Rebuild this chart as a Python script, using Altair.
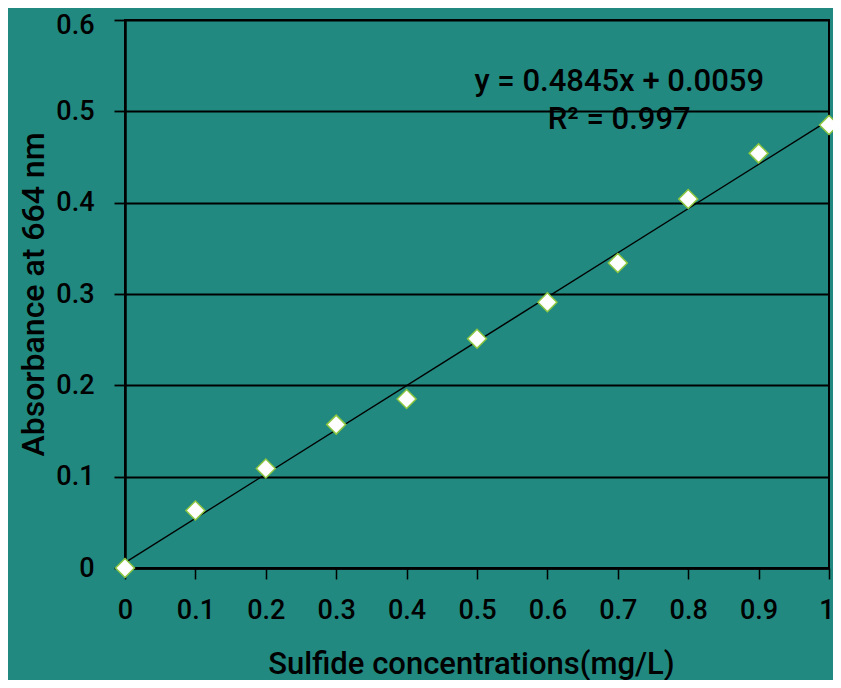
import altair as alt
import pandas as pd

# data
conc = [0, 0.1, 0.2, 0.3, 0.4, 0.5, 0.6, 0.7, 0.8, 0.9, 1.0]
absorb = [0.0, 0.063, 0.109, 0.157, 0.185, 0.251, 0.291, 0.334, 0.404, 0.454, 0.485]

trend_x = [0.0, 1.0]
trend_y = [0.0059, 0.4904]

ann_text = ["y = 0.4845x + 0.0059", "R² = 0.997"]
ann_x = [0.702, 0.702]
ann_y = [0.532, 0.4905]

x_ticks = [0, 0.1, 0.2, 0.3, 0.4, 0.5, 0.6, 0.7, 0.8, 0.9, 1]
y_ticks = [0, 0.1, 0.2, 0.3, 0.4, 0.5, 0.6]

pts = pd.DataFrame({"x": conc, "y": absorb})
trend = pd.DataFrame({"x": trend_x, "y": trend_y})
ann = pd.DataFrame({"x": ann_x, "y": ann_y, "t": ann_text})

FONT = "Roboto"
BG = "#21897F"
LBL = 27
TTL = 31

xscale = alt.Scale(domain=[0, 1], nice=False, zero=False)
yscale = alt.Scale(domain=[0, 0.6], nice=False)

xaxis = alt.Axis(
    title="Sulfide concentrations(mg/L)", values=x_ticks, grid=False,
    labelExpr="datum.value == 0 ? '0' : datum.value == 1 ? '1' : format(datum.value, '.1f')",
    labelAlign={"expr": "datum.value == 1 ? 'right' : 'center'"},
    labelOffset={"expr": "datum.value == 1 ? 5 : 0"},
    domainColor="black", domainWidth=2.5, tickColor="black", tickWidth=1.5, tickSize=11,
    labelPadding=18, labelFontSize=LBL, labelFont=FONT, labelColor="black", labelFontWeight=500,
    titleFontSize=TTL, titleFont=FONT, titleColor="black", titleFontWeight=500,
    titleY=96, titleX=346, titleAlign="center", titleBaseline="middle",
)
yaxis = alt.Axis(
    title="Absorbance at 664 nm", values=y_ticks, grid=True, gridColor="black", gridWidth=1.8,
    labelExpr="datum.value == 0 ? '0' : format(datum.value, '.1f')",
    labelOffset={"expr": "datum.value == 0.6 ? 5 : 0"},
    domainColor="black", domainWidth=2.5, tickColor="black", tickWidth=1.8, tickSize=11,
    labelPadding=20, labelFontSize=LBL, labelFont=FONT, labelColor="black", labelFontWeight=500,
    titleFontSize=32, titleFont=FONT, titleColor="black", titleFontWeight=500,
    titleX=-92, titleBaseline="middle",
)

base_x = alt.X("x:Q", scale=xscale, axis=xaxis)
base_y = alt.Y("y:Q", scale=yscale, axis=yaxis)

line = alt.Chart(trend).mark_line(color="black", strokeWidth=1.3).encode(x=base_x, y=base_y)
points = alt.Chart(pts).mark_point(
    shape="diamond", filled=True, fill="white", stroke="#8DC63F", strokeWidth=1.5,
    size=360, opacity=1,
).encode(x=alt.X("x:Q", scale=xscale), y=alt.Y("y:Q", scale=yscale))
text = alt.Chart(ann).mark_text(
    font=FONT, fontSize=TTL, fontWeight=500, color="black", align="center", baseline="middle"
).encode(x=alt.X("x:Q", scale=xscale), y=alt.Y("y:Q", scale=yscale), text="t:N")

chart = alt.layer(line, points, text).properties(
    width=704, height=548, background=BG,
    autosize=alt.AutoSizeParams(type="none"),
    padding={"left": 117, "top": 12, "right": 4, "bottom": 112},
).configure_view(stroke="black", strokeWidth=2).configure_axis(labelFlush=False, labelOverlap=False)

chart.save("out.html", embed_options={"renderer": "svg", "actions": False})
